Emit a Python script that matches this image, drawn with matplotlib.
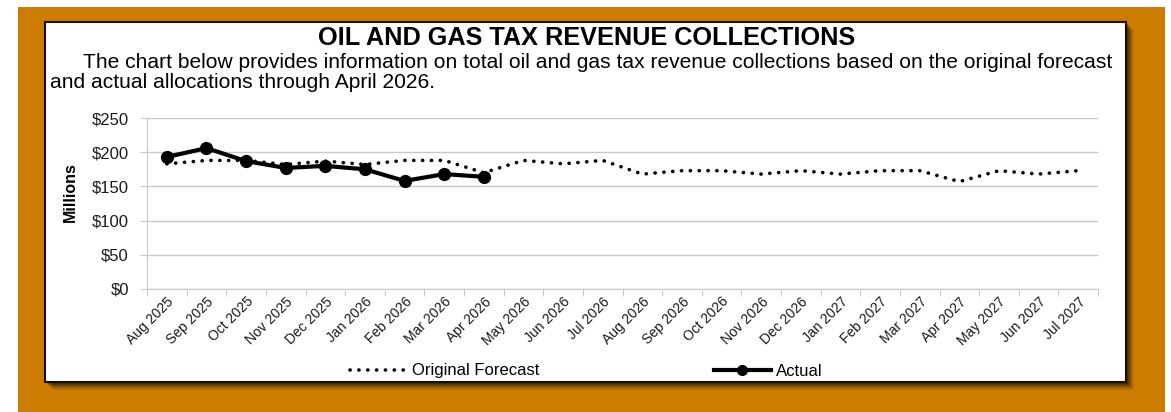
import matplotlib
matplotlib.use("Agg")
import matplotlib.pyplot as plt
from matplotlib.patches import Rectangle
from matplotlib.lines import Line2D
from matplotlib.transforms import ScaledTranslation
import numpy as np

plt.rcParams['font.family'] = ['Liberation Sans', 'DejaVu Sans']

# ---- data (millions of dollars) ----
months = ["Aug 2025", "Sep 2025", "Oct 2025", "Nov 2025", "Dec 2025", "Jan 2026",
          "Feb 2026", "Mar 2026", "Apr 2026", "May 2026", "Jun 2026", "Jul 2026",
          "Aug 2026", "Sep 2026", "Oct 2026", "Nov 2026", "Dec 2026", "Jan 2027",
          "Feb 2027", "Mar 2027", "Apr 2027", "May 2027", "Jun 2027", "Jul 2027"]
forecast = [183, 188, 188, 182, 187, 182, 188, 188, 170, 188, 183, 188,
            168, 173, 173, 168, 173, 168, 173, 173, 157, 173, 168, 173]
actual = [193, 206, 187, 177, 180, 175, 158, 168, 164]
y_ticks = [0, 50, 100, 150, 200, 250]

W, H = 1171, 412
fig = plt.figure(figsize=(W / 100, H / 100), dpi=100)
fig.patch.set_facecolor("white")


def fx(x):
    return x / W


def fy(y):
    return 1 - y / H


def rect(x0, y0, x1, y1, **kw):
    r = Rectangle((fx(x0), fy(y1)), fx(x1) - fx(x0), fy(y0) - fy(y1),
                  transform=fig.transFigure, **kw)
    fig.patches.append(r)
    return r


# orange backdrop
rect(18, 7, 1165, 412, facecolor="#CC7C00", edgecolor="none", zorder=0)
# soft shadow behind the white panel
for i, a in enumerate([0.06, 0.08, 0.10, 0.12, 0.15, 0.18, 0.2]):
    off = 8 - i
    rect(45 + off, 22 + off, 1126 + off, 382 + off, facecolor="black",
         edgecolor="none", alpha=a, zorder=1)
# white panel with dark border
rect(45, 22, 1126, 382, facecolor="white", edgecolor="#111111", linewidth=1.5, zorder=2)

# heading text
fig.text(fx(587), fy(38), "OIL AND GAS TAX REVENUE COLLECTIONS", ha="center", va="center",
         fontsize=18.2, fontweight="bold", color="black", zorder=3)
fig.text(fx(83), fy(62), "The chart below provides information on total oil and gas tax revenue "
         "collections based on the original forecast", ha="left", va="center",
         fontsize=15.1, color="black", zorder=3)
fig.text(fx(50), fy(83), "and actual allocations through April 2026.", ha="left", va="center",
         fontsize=15.1, color="black", zorder=3)

# chart area
ax = fig.add_axes([fx(147), fy(289), fx(1098) - fx(147), fy(118) - fy(289)], zorder=4)
ax.set_facecolor("none")
x = np.arange(len(months))
ax.set_xlim(-0.5, len(months) - 0.5)
ax.set_ylim(0, 250)

ax.plot(x, forecast, color="black", linewidth=2.6, linestyle=(0, (0.05, 2.4)),
        dash_capstyle="round", solid_capstyle="round", zorder=3)
ax.plot(x[:len(actual)], actual, color="black", linewidth=3, marker="o",
        markersize=8.5, zorder=4)

ax.set_yticks(y_ticks)
ax.set_yticklabels([f"${v}" for v in y_ticks], fontsize=12, color="#1a1a1a")
ax.grid(axis="y", color="#c8c8c8", linewidth=1)
ax.set_axisbelow(True)
for s in ["top", "right"]:
    ax.spines[s].set_visible(False)
ax.spines["left"].set_color("#c8c8c8")
ax.spines["bottom"].set_color("#c8c8c8")
ax.tick_params(axis="y", length=5, color="#c8c8c8", pad=8)

# category boundaries carry the tick marks, labels sit at category centres
ax.set_xticks(np.arange(len(months) + 1) - 0.5)
ax.set_xticklabels([])
ax.tick_params(axis="x", which="major", length=5, color="#c8c8c8")
ax.set_xticks(x, minor=True)
labels = ax.set_xticklabels(months, minor=True, rotation=45, ha="right", va="top",
                            rotation_mode="anchor", fontsize=10, color="#1a1a1a")
shift = ScaledTranslation(-6 / 100, -3 / 100, fig.dpi_scale_trans)
for lab in labels:
    lab.set_transform(lab.get_transform() + shift)
ax.tick_params(axis="x", which="minor", length=0, pad=4)

# value-axis title
fig.text(fx(70), fy(192), "Millions", rotation=90, ha="center", va="center",
         fontsize=11.5, fontweight="bold", color="black", zorder=5)

handles = [Line2D([], [], color="black", linewidth=2.6, linestyle=(0, (0.05, 2.4)),
                  dash_capstyle="round"),
           Line2D([], [], color="black", linewidth=3, marker="o", markersize=7)]
fig.legend(handles, ["Original Forecast", "Actual"], loc="center",
           bbox_to_anchor=(fx(586), fy(371)), ncol=2, frameon=False, fontsize=12,
           handlelength=3.4, columnspacing=10.5, handletextpad=0.3)

fig.savefig("out.png", dpi=100, facecolor=fig.get_facecolor())
